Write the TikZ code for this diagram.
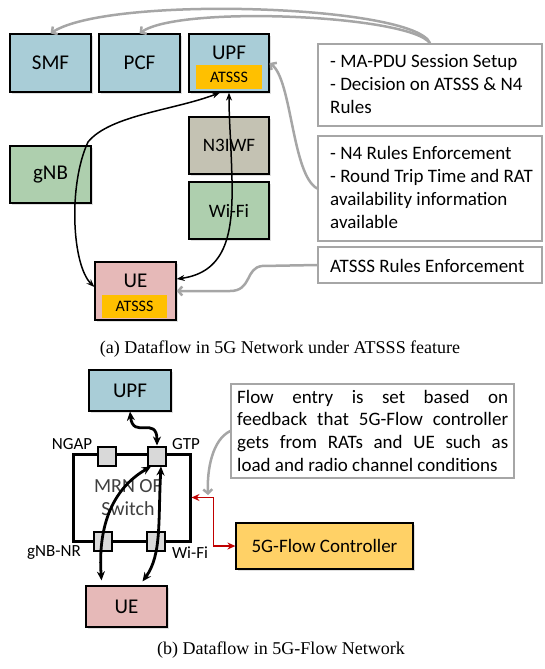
\documentclass[tikz,border=0pt]{standalone}
\usepackage{fontspec}
\setmainfont{Liberation Serif}
\newfontfamily\calibri{Carlito}
\usetikzlibrary{arrows.meta,shapes,shadows}
\definecolor{cnblue}{HTML}{A9CDD7}
\definecolor{rangreen}{HTML}{AECFAE}
\definecolor{iwfgrey}{HTML}{C4C2B3}
\definecolor{uepink}{HTML}{E6B9B8}
\definecolor{atsssyel}{HTML}{FFC000}
\definecolor{ctrlyel}{HTML}{FFD166}
\definecolor{notegrey}{HTML}{A6A6A6}
\definecolor{fbred}{HTML}{C00000}
\tikzstyle{nf}=[draw, line width=1.2pt, inner sep=0pt, font=\calibri\fontsize{21}{25}\selectfont,
  drop shadow={opacity=0.25, shadow xshift=2pt, shadow yshift=-2pt}]
\tikzstyle{atsss}=[fill=atsssyel, inner sep=0pt, font=\calibri\fontsize{16}{19}\selectfont]
\tikzstyle{note}=[draw=notegrey, line width=1.5pt, fill=white, inner sep=0pt, minimum width=224pt]
\tikzstyle{notetxt}=[anchor=base west, align=left, inner sep=0pt, font=\calibri\fontsize{19}{22.7}\selectfont]
\tikzstyle{greyarr}=[draw=notegrey, line width=2.5pt, -{Straight Barb[length=4pt,width=9pt]}]
\tikzstyle{flow}=[line width=1.5pt, {Stealth[length=8pt,width=6pt]}-{Stealth[length=8pt,width=6pt]}]
\tikzstyle{flowb}=[line width=2.8pt, {Stealth[length=9pt,width=8pt]}-{Stealth[length=9pt,width=8pt]}]
\tikzstyle{port}=[draw, fill=black!15, line width=2pt, minimum width=18pt, minimum height=19pt, inner sep=0pt]
\tikzstyle{portlbl}=[inner sep=0pt, font=\calibri\fontsize{17}{20}\selectfont]
\begin{document}
\begin{tikzpicture}[x=1pt, y=-1pt]
\useasboundingbox (0,0) rectangle (544,669);

% (a) 5G network
\node[nf, fill=cnblue, minimum width=81pt, minimum height=58pt] (smf) at (50.5,63) {SMF};
\node[nf, fill=cnblue, minimum width=81pt, minimum height=58pt] (pcf) at (139.5,63) {PCF};
\node[nf, fill=cnblue, minimum width=80pt, minimum height=58pt] (upf) at (229,63) {};
\node[inner sep=0pt, font=\calibri\fontsize{21}{25}\selectfont] (upflbl) at (229,53) {UPF};
\node[atsss, minimum width=66pt, minimum height=24pt] (upfats) at (229,77) {ATSSS};
\node[nf, fill=rangreen, minimum width=81pt, minimum height=57pt] (gnb) at (50.5,174.5) {gNB};
\node[nf, fill=iwfgrey, minimum width=80pt, minimum height=57pt, font=\calibri\fontsize{19}{23}\selectfont] (n3iwf) at (229,145.5) {N3IWF};
\node[nf, fill=rangreen, minimum width=80pt, minimum height=57pt, font=\calibri\fontsize{19}{23}\selectfont] (wifi) at (229,210.5) {Wi-Fi};
\node[nf, fill=uepink, minimum width=81pt, minimum height=58pt] (ue) at (135.5,291) {};
\node[inner sep=0pt, font=\calibri\fontsize{21}{25}\selectfont] (uelbl) at (135.5,281) {UE};
\node[atsss, minimum width=65pt, minimum height=23pt] (ueats) at (134.5,306.5) {ATSSS};

% notes, placed by their last baseline
\node[note, minimum height=82pt] (n1) at (430,85) {};
\node[notetxt] (n1txt) at (330,113) {- MA-PDU Session Setup\\- Decision on ATSSS \& N4\\Rules};
\node[note, minimum height=105pt] (n2) at (430,188.5) {};
\node[notetxt] (n2txt) at (330,228) {- N4 Rules Enforcement\\- Round Trip Time and RAT\\availability information\\available};
\node[note, minimum height=36pt] (n3) at (430,265) {};
\node[notetxt] (n3txt) at (330,272) {ATSSS Rules Enforcement};

\draw[greyarr] (n1.north) .. controls (415,5) and (110,-5) .. (smf.north);
\draw[greyarr] (n1.north) .. controls (410,15) and (180,5) .. (pcf.north);
\draw[greyarr] (n2.west) .. controls (292,175) and (292,80) .. (upf.east);
\draw[greyarr] (n3.west) -- (262,266) .. controls (245,268) and (252,291) .. (230,291) -- (ue.east);

\draw[flow] ([yshift=4pt]ue.west) .. controls (72,265) and (68,185) .. (88,142)
  .. controls (110,115) and (175,110) .. ([xshift=-9pt]upf.south);
\draw[flow] ([yshift=12pt]ue.east) .. controls (228,272) and (233,230) .. (232,180)
  .. controls (231,140) and (229,120) .. (upf.south);

\node[font=\fontsize{18}{22}\selectfont, inner sep=0pt] (capa) at (280,349) {(a) Dataflow in 5G Network under ATSSS feature};

% (b) 5G-Flow network
\node[nf, fill=cnblue, minimum width=82pt, minimum height=41pt] (upfb) at (130,390.5) {UPF};
\node[draw, line width=3pt, minimum width=117pt, minimum height=87pt, inner sep=0pt] (sw) at (131.5,497.5) {};
\node[align=center, text=black!75, inner sep=0pt, font=\calibri\fontsize{20}{23}\selectfont] (swlbl) at (128,498) {MRN OF\\Switch};
\node[port] (ngap) at (107,456) {};
\node[port] (gtp) at (157,456) {};
\node[port] (gnbnr) at (103,541) {};
\node[port] (wifip) at (156,541) {};
\node[portlbl] (ngaplbl) at (72,444) {NGAP};
\node[portlbl] (gtplbl) at (186,444) {GTP};
\node[portlbl] (gnbnrlbl) at (54,553) {gNB-NR};
\node[portlbl] (wifilbl) at (190,553) {Wi-Fi};
\node[nf, fill=uepink, minimum width=81pt, minimum height=41pt] (ueb) at (126.5,606.5) {UE};
\node[nf, fill=ctrlyel, minimum width=177pt, minimum height=46pt, font=\calibri\fontsize{19}{23}\selectfont] (ctrl) at (324.5,546) {5G-Flow Controller};

\node[draw=notegrey, line width=1.5pt, minimum width=283pt, minimum height=94pt, inner sep=0pt] (n4) at (372.5,431) {};
\node[anchor=base west, inner sep=0pt, text width=271pt, align=justify, font=\calibri\fontsize{19}{22.7}\selectfont] (n4txt) at (237,403)
  {Flow entry is set based on\linebreak feedback that 5G-Flow controller\linebreak gets from RATs and UE such as\linebreak load and radio channel conditions};

\draw[flowb] (upfb.south) .. controls (133,440) and (157,415) .. (gtp.north);
\draw[flowb] ([xshift=-6pt]gtp.south) .. controls (110,490) and (98,530) .. ([xshift=-25pt,yshift=5pt]ueb.north);
\draw[flowb] ([xshift=4pt]gtp.south) .. controls (158,520) and (162,555) .. ([xshift=16pt,yshift=4pt]ueb.north);

\draw[fbred, line width=1.5pt, {Stealth[length=8pt,width=7pt]}-{Stealth[length=8pt,width=7pt]}] (sw.east) -- ++(22,0) |- (ctrl.west);
\coordinate (fb) at (208,495);
\draw[greyarr] (n4.west) .. controls (212,440) and (207,470) .. (fb);

\node[font=\fontsize{18}{22}\selectfont, inner sep=0pt] (capb) at (281,650) {(b) Dataflow in 5G-Flow Network};
\end{tikzpicture}
\end{document}
